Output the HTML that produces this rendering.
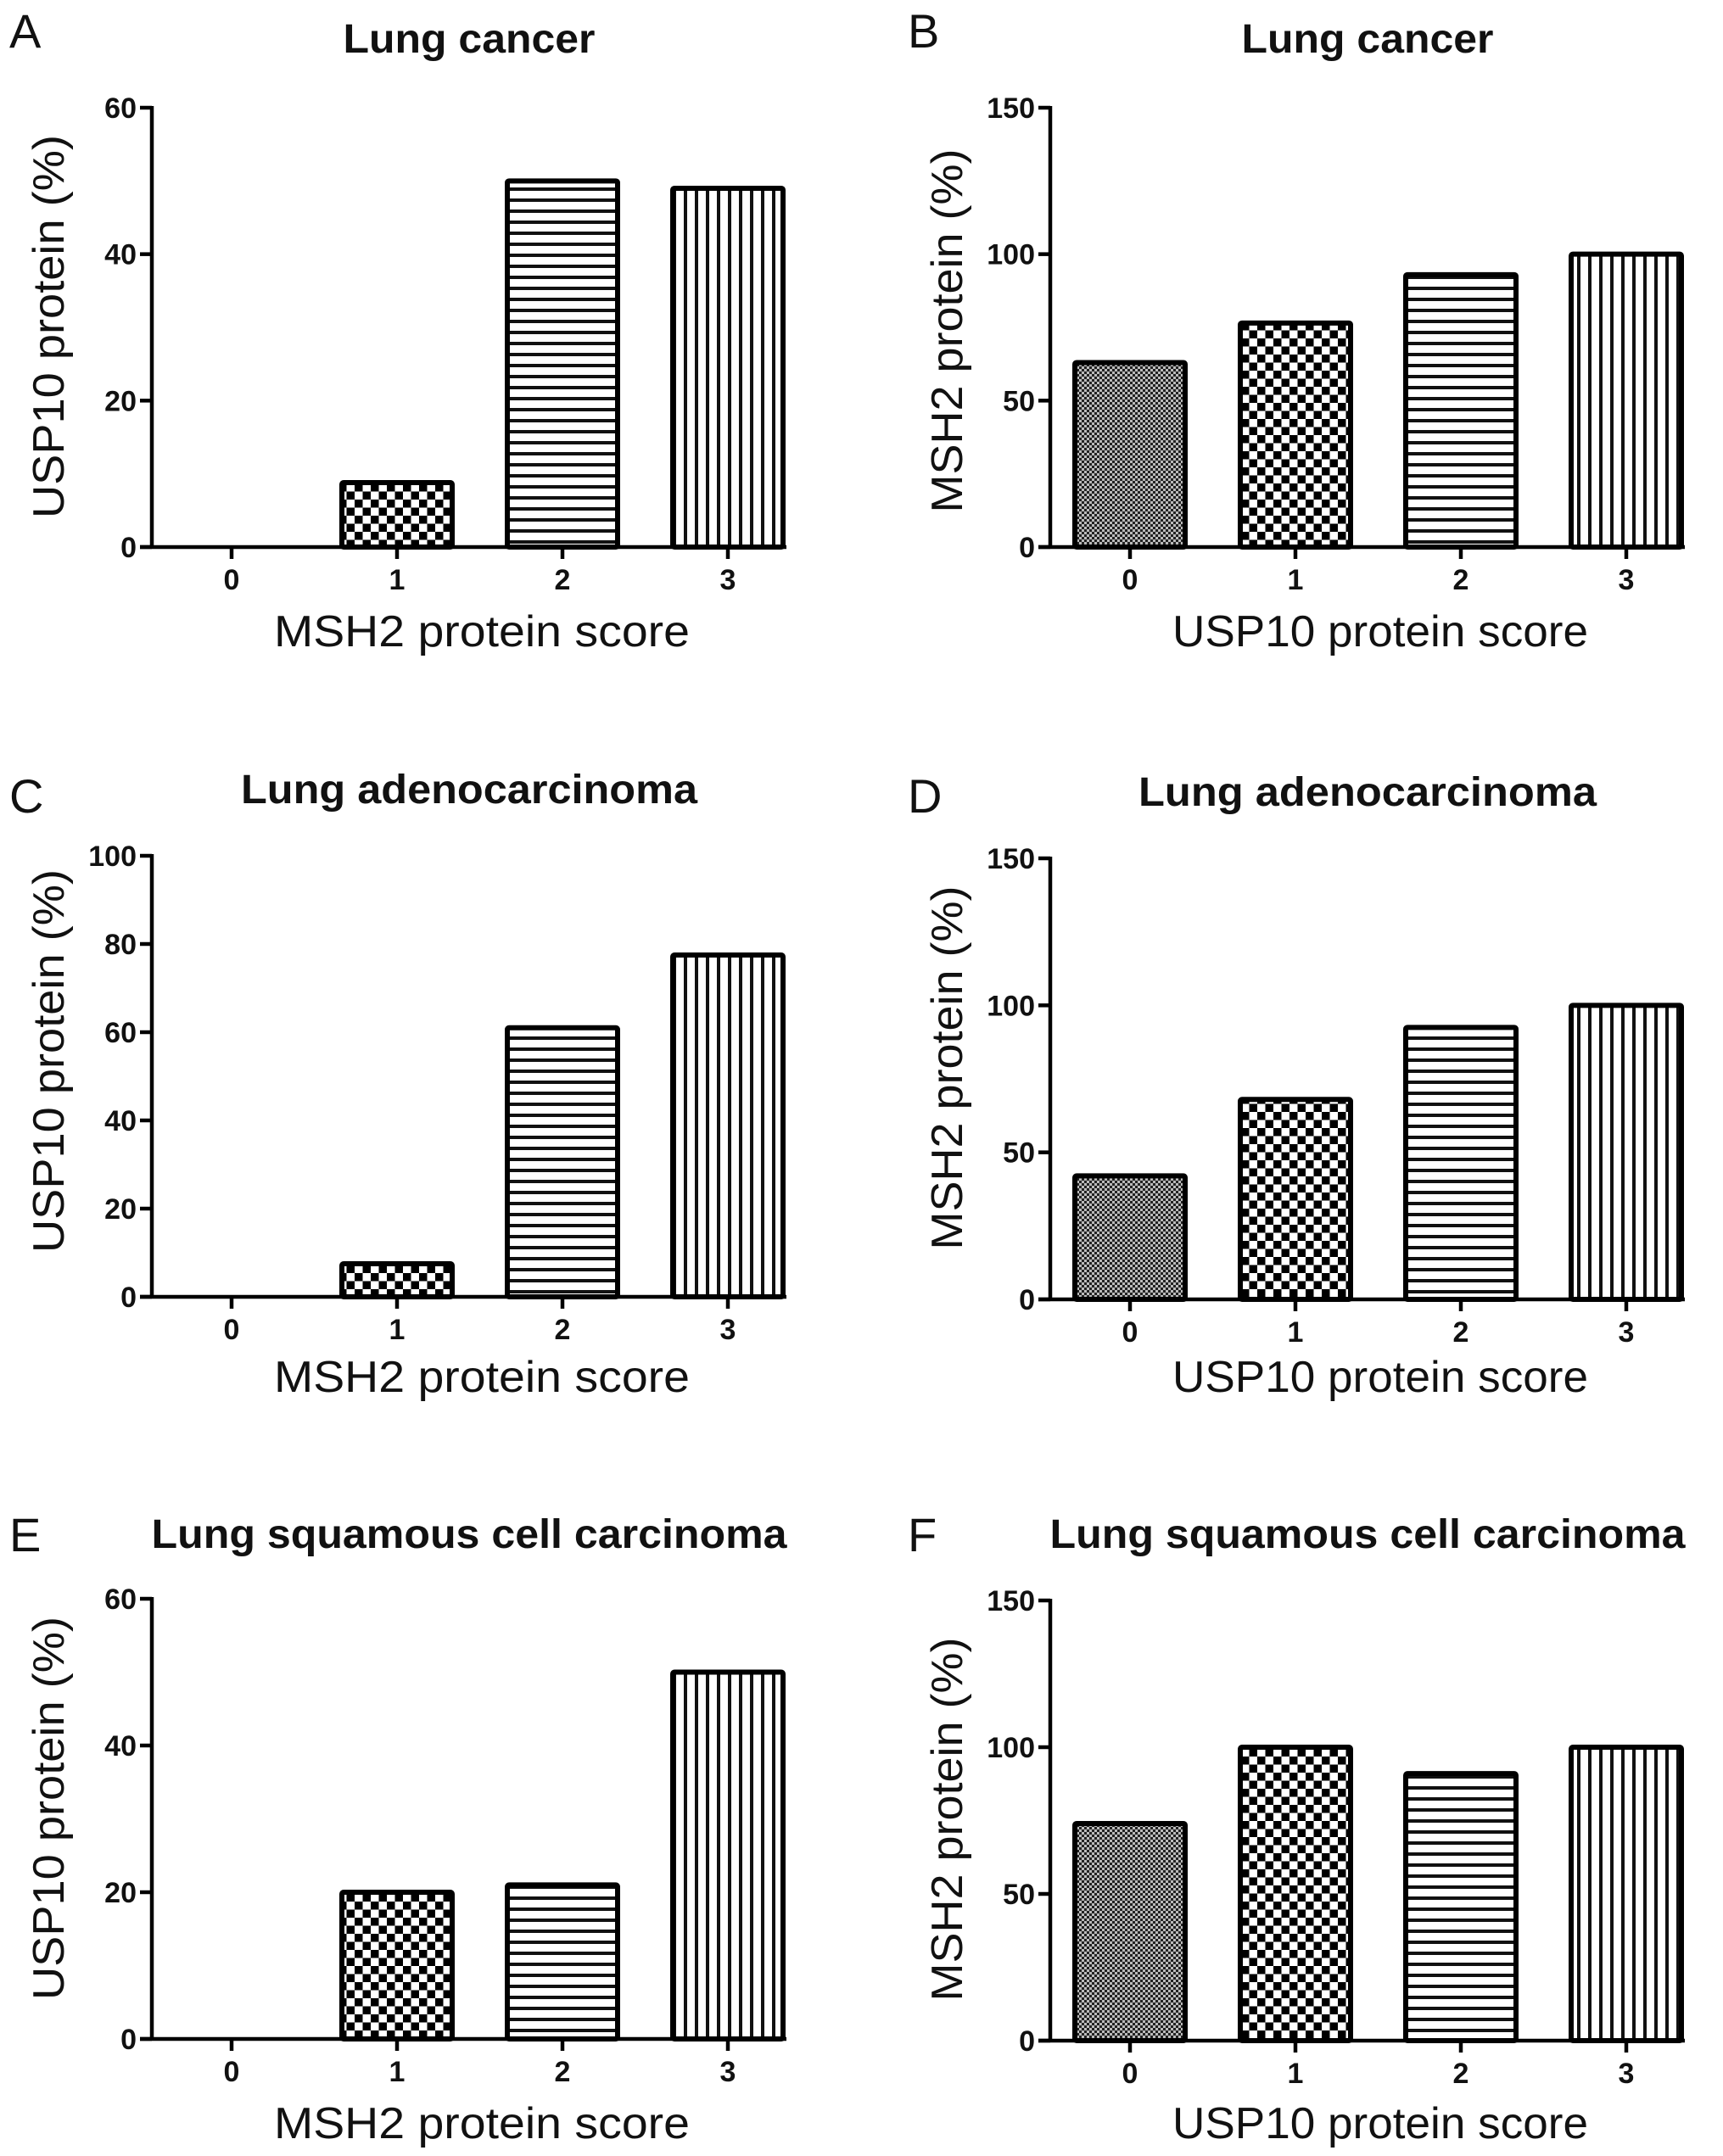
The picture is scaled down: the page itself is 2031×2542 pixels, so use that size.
<!DOCTYPE html>
<html><head><meta charset="utf-8">
<style>
html,body{margin:0;padding:0;background:#fff;}
svg{display:block;}
text{font-family:"Liberation Sans",Arial,sans-serif;fill:#111;}
</style></head>
<body>
<svg id="fig" width="2031" height="2542" viewBox="0 0 2031 2542" xmlns="http://www.w3.org/2000/svg">
<defs>
<pattern id="p0" patternUnits="userSpaceOnUse" width="6" height="6">
<rect width="6" height="6" fill="#bbb"/><rect width="3" height="3" fill="#222"/><rect x="3" y="3" width="3" height="3" fill="#222"/>
</pattern>
<pattern id="p1" patternUnits="userSpaceOnUse" width="19" height="19">
<rect width="19" height="19" fill="#fff"/><rect x="0" y="0" width="9.5" height="9.5" fill="#000"/><rect x="9.5" y="9.5" width="9.5" height="9.5" fill="#000"/>
</pattern>
<pattern id="p2" patternUnits="userSpaceOnUse" width="13" height="13">
<rect width="13" height="13" fill="#fff"/><rect y="0" width="13" height="4" fill="#111"/>
</pattern>
<pattern id="p3" patternUnits="userSpaceOnUse" width="13" height="13">
<rect width="13" height="13" fill="#fff"/><rect x="0" width="4" height="13" fill="#111"/>
</pattern>
</defs>
</svg>
<script>
const categories = ["0","1","2","3"];
const valuesA = [0, 8.8, 50, 49];
const valuesB = [63, 76.5, 93, 100];
const valuesC = [0, 7.5, 61, 77.5];
const valuesD = [42, 68, 92.5, 100];
const valuesE = [0, 20, 21, 50];
const valuesF = [74, 100, 91, 100];
const ticks60 = [0, 20, 40, 60];
const ticks100 = [0, 20, 40, 60, 80, 100];
const ticks150 = [0, 50, 100, 150];

const NS = "http://www.w3.org/2000/svg";
const svg = document.getElementById('fig');
function mk(tag, attrs, parent, txt){
  const e = document.createElementNS(NS, tag);
  for (const k in attrs) e.setAttribute(k, attrs[k]);
  if (txt !== undefined) e.textContent = txt;
  (parent || svg).appendChild(e);
  return e;
}
const panels = [
  {id:'a', letter:'A', title:'Lung cancer', tw:297, vals:valuesA, ticks:ticks60, max:60, ax:179, top:127, zero:645, xlab:'MSH2 protein score', ylab:'USP10 protein (%)', ylw:452, tb:62, lb:56, xb:762, ylc:385},
  {id:'b', letter:'B', title:'Lung cancer', tw:297, vals:valuesB, ticks:ticks150, max:150, ax:1238, top:127, zero:645, xlab:'USP10 protein score', ylab:'MSH2 protein (%)', ylw:429, tb:62, lb:56, xb:762, ylc:390},
  {id:'c', letter:'C', title:'Lung adenocarcinoma', tw:538, vals:valuesC, ticks:ticks100, max:100, ax:179, top:1009, zero:1529, xlab:'MSH2 protein score', ylab:'USP10 protein (%)', ylw:452, tb:947, lb:958, xb:1641, ylc:1251},
  {id:'d', letter:'D', title:'Lung adenocarcinoma', tw:540, vals:valuesD, ticks:ticks150, max:150, ax:1238, top:1012, zero:1532, xlab:'USP10 protein score', ylab:'MSH2 protein (%)', ylw:429, tb:950, lb:958, xb:1641, ylc:1259},
  {id:'e', letter:'E', title:'Lung squamous cell carcinoma', tw:749, vals:valuesE, ticks:ticks60, max:60, ax:179, top:1885, zero:2404, xlab:'MSH2 protein score', ylab:'USP10 protein (%)', ylw:452, tb:1825, lb:1829, xb:2521, ylc:2132},
  {id:'f', letter:'F', title:'Lung squamous cell carcinoma', tw:749, vals:valuesF, ticks:ticks150, max:150, ax:1238, top:1887, zero:2406, xlab:'USP10 protein score', ylab:'MSH2 protein (%)', ylw:429, tb:1825, lb:1829, xb:2521, ylc:2145}
];
const fills = ['url(#p0)','url(#p1)','url(#p2)','url(#p3)'];
panels.forEach(p => {
  const g = mk('g', {});
  
  
  const step = 195;
  const x0 = p.ax + 94;
  const xEnd = p.ax + 748;
  const xs = i => x0 + i * step;
  const ys = v => p.zero - (v / p.max) * (p.zero - p.top);
  const mid = (p.ax + xEnd) / 2;
  const L = mk('text', {x: p.ax - 168, y: p.lb, 'font-size': 56}, g, p.letter);
  
  
  const T = mk('text', {x: mid, y: p.tb, 'font-size': 48, 'font-weight': 'bold', 'text-anchor': 'middle', textLength: p.tw, lengthAdjust: 'spacingAndGlyphs'}, g, p.title);
  
  
  p.vals.forEach((v, i) => {
    if (v <= 0) return;
    const y = ys(v);
    const r = mk('rect', {x: xs(i) - 65, y: y, width: 130, height: p.zero - y, fill: fills[i], stroke: '#000', 'stroke-width': 6, rx: 2}, g);
    
    
  });
  const ya = mk('line', {x1: p.ax, y1: p.top - 2, x2: p.ax, y2: p.zero + 2, stroke: '#000', 'stroke-width': 4.5}, g);
  
  
  const xa = mk('line', {x1: p.ax - 14, y1: p.zero, x2: xEnd, y2: p.zero, stroke: '#000', 'stroke-width': 4.5}, g);
  
  
  p.ticks.forEach(t => {
    const y = ys(t);
    mk('line', {x1: p.ax - 14, y1: y, x2: p.ax, y2: y, stroke: '#000', 'stroke-width': 4.5}, g);
    const tl = mk('text', {x: p.ax - 18, y: y + 12, 'font-size': 34, 'font-weight': 'bold', 'text-anchor': 'end'}, g, String(t));
    
    
  });
  categories.forEach((c, i) => {
    mk('line', {x1: xs(i), y1: p.zero, x2: xs(i), y2: p.zero + 14, stroke: '#000', 'stroke-width': 4.5}, g);
    const tl = mk('text', {x: xs(i), y: p.zero + 50, 'font-size': 34, 'font-weight': 'bold', 'text-anchor': 'middle'}, g, c);
    
    
  });
  const xl = mk('text', {x: mid + 15, y: p.xb, 'font-size': 52, 'text-anchor': 'middle', textLength: 490, lengthAdjust: 'spacingAndGlyphs'}, g, p.xlab);
  
  
  const ylx = p.ax - 104;
  const yl = mk('text', {x: ylx, y: p.ylc, 'font-size': 52, 'text-anchor': 'middle', textLength: p.ylw, lengthAdjust: 'spacingAndGlyphs', transform: 'rotate(-90 ' + ylx + ' ' + p.ylc + ')'}, g, p.ylab);
  
  
});
</script>
</body></html>
